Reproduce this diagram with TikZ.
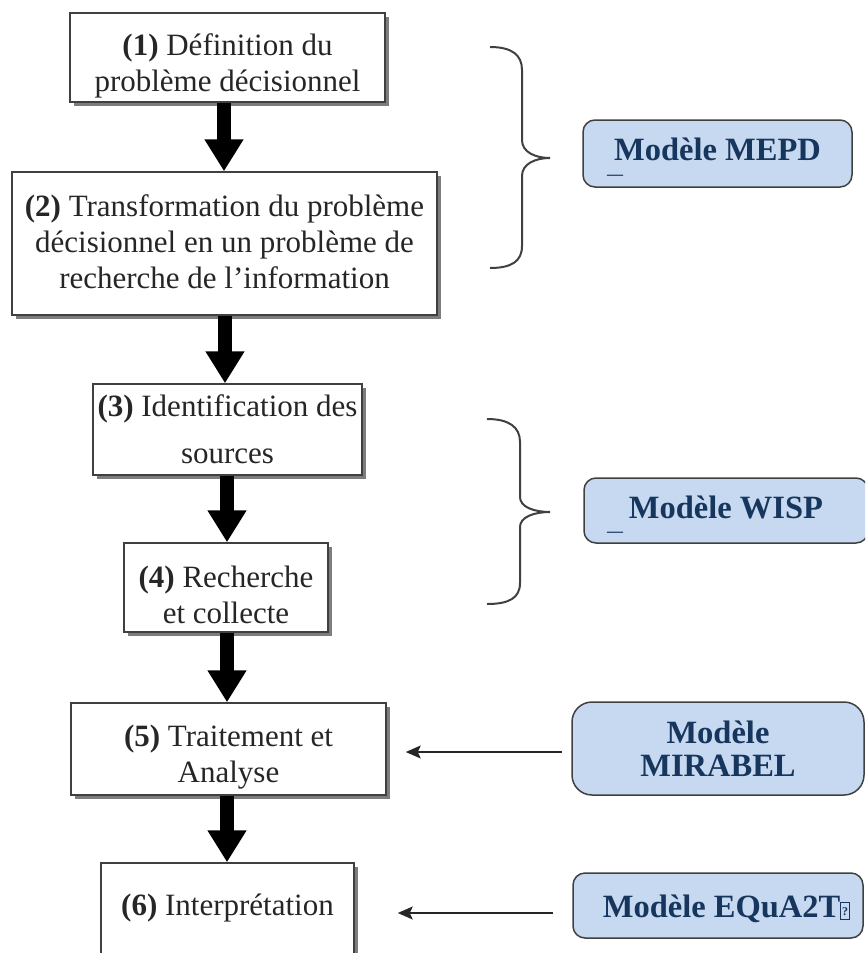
\documentclass[tikz,border=0pt]{standalone}
\usepackage{fontspec}
\setmainfont{Liberation Serif}
\usetikzlibrary{arrows.meta,shadows,calc}
\definecolor{boxline}{HTML}{404040}
\definecolor{txt}{HTML}{262626}
\definecolor{modfill}{HTML}{C6D9F1}
\definecolor{modtxt}{HTML}{17365D}
\newcommand{\missingglyph}{{\setlength{\fboxsep}{0.8pt}\setlength{\fboxrule}{1.1pt}\fbox{\rule{0pt}{14pt}\raisebox{2pt}{\fontsize{12}{12}\selectfont ?}}}}
\newcommand{\topstrut}[1]{\rule{0pt}{#1}}
\newcommand{\botstrut}[1]{\rule[-#1]{0pt}{#1}}
\begin{document}
\begin{tikzpicture}[x=1pt,y=-1pt,
  stepbox/.style={draw=boxline, line width=1.5pt, fill=white, align=center, text=txt,
    font=\fontsize{31}{36}\selectfont, inner sep=0pt,
    drop shadow={shadow xshift=4pt, shadow yshift=-4pt, fill=black!60, opacity=0.85}},
  modbox/.style={draw=boxline, line width=1.5pt, fill=modfill, rounded corners=12pt, align=center,
    text=modtxt, font=\fontsize{32.5}{33}\selectfont\bfseries, inner sep=0pt},
  dashlbl/.style={text=modtxt, font=\fontsize{16}{16}\selectfont\bfseries, inner sep=0pt, anchor=base west},
  bigarrow/.style={line width=14pt, -{Triangle[length=32pt,width=37pt]}},
  smallarrow/.style={line width=1.5pt, draw=black!85, -{Stealth[length=15pt,width=13pt,inset=3pt]}},
  bracestyle/.style={draw=black!75, line width=2pt}
]
\useasboundingbox (0,0) rectangle (865,953);
\clip (0,0) rectangle (865,953);

% process boxes
\node[stepbox, minimum width=315pt, minimum height=89pt] (b1) at (227.5,57.5)
  {\topstrut{39.5pt}\textbf{(1)} Définition du\\problème décisionnel};
\node[stepbox, minimum width=425pt, minimum height=143pt] (b2) at (224.5,243.5)
  {\textbf{(2)} Transformation du problème\\décisionnel en un problème de\\recherche de l’information\botstrut{4pt}};
\node[stepbox, minimum width=269pt, minimum height=91pt] (b3) at (227.5,429.5)
  {\textbf{(3)} Identification des\\[11pt]sources};
\node[stepbox, minimum width=204pt, minimum height=89pt] (b4) at (226,587.5)
  {\topstrut{35.5pt}\textbf{(4)} Recherche\\et collecte};
\node[stepbox, minimum width=315pt, minimum height=92pt] (b5) at (228.5,749)
  {\topstrut{37.5pt}\textbf{(5)} Traitement et\\Analyse};
\node[stepbox, minimum width=253pt, minimum height=120pt] (b6) at (227.5,923)
  {\topstrut{31.5pt}\textbf{(6)} Interprétation\\ \strut};

% big arrows
\draw[bigarrow] ([xshift=-3.5pt]b1.south) -- ([xshift=-3.5pt]b1.south |- b2.north);
\draw[bigarrow] ([xshift=0.5pt]b2.south) -- ([xshift=0.5pt]b2.south |- b3.north);
\draw[bigarrow] ([xshift=-0.5pt]b3.south) -- ([xshift=-0.5pt]b3.south |- b4.north);
\draw[bigarrow] ([xshift=1pt]b4.south) -- ([xshift=1pt]b4.south |- b5.north);
\draw[bigarrow] ([xshift=-1.5pt]b5.south) -- ([xshift=-1.5pt]b5.south |- b6.north);

% model boxes
\node[modbox, minimum width=269pt, minimum height=67pt] (m1) at (717.5,153.5) {Modèle MEPD\botstrut{9pt}};
\node[dashlbl] (m1d) at (607,179) {—};
\node[modbox, minimum width=284pt, minimum height=65pt] (m2) at (726,510.5) {Modèle WISP\botstrut{7pt}};
\node[dashlbl] (m2d) at (607,536) {—};
\node[modbox, rounded corners=20pt, minimum width=292pt, minimum height=93pt] (m3) at (718,748.5)
  {Modèle\\MIRABEL};
\node[modbox, minimum width=290pt, minimum height=65pt] (m4) at (718,905.5)
  {\topstrut{30pt}\hspace*{17pt}Modèle EQuA2T\missingglyph};

% small arrows
\draw[smallarrow, shorten <=9pt, shorten >=19pt] ([yshift=-3.5pt]m3.west) -- ([yshift=-3.5pt]m3.west -| b5.east);
\draw[smallarrow, shorten <=19pt, shorten >=43pt] ([yshift=-7.5pt]m4.west) -- ([yshift=-7.5pt]m4.west -| b6.east);

% braces
\draw[bracestyle] (490,47) .. controls (512,47) and (522,55) .. (522,70) -- (522,140)
  .. controls (522,152) and (535,158) .. (550,158)
  .. controls (535,158) and (522,164) .. (522,176) -- (522,246)
  .. controls (522,261) and (512,268) .. (490,268);
\draw[bracestyle] (487,419) .. controls (509,419) and (520,427) .. (520,442) -- (520,497)
  .. controls (520,507) and (534,512) .. (550,512)
  .. controls (534,512) and (520,517) .. (520,527) -- (520,583)
  .. controls (520,598) and (509,604) .. (487,604);
\end{tikzpicture}
\end{document}
